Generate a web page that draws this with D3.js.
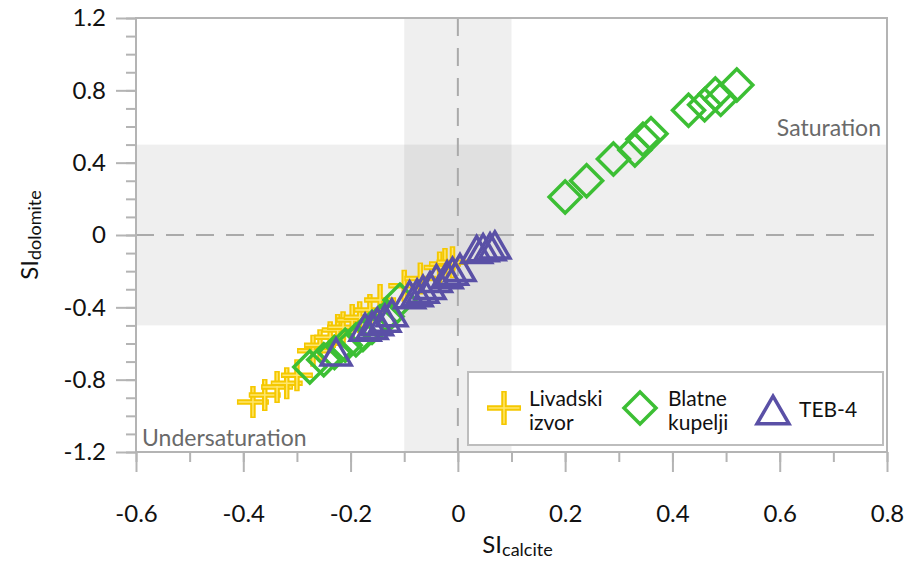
<!DOCTYPE html>
<html>
<head>
<meta charset="utf-8">
<script src="https://cdn.jsdelivr.net/npm/d3@7"></script>
<style>
  body { margin: 0; background: #fff; }
  svg { font-family: Lato, "Open Sans", sans-serif; }
</style>
</head>
<body>
<svg id="si-chart"></svg>
<script>
// Livadski izvor (crosses)
const livadski = [
    [-0.382, -0.924], [-0.36, -0.885], [-0.337, -0.84], [-0.319, -0.82],
    [-0.30, -0.775], [-0.27, -0.64], [-0.257, -0.61], [-0.238, -0.565],
    [-0.224, -0.525], [-0.214, -0.51], [-0.197, -0.47], [-0.183, -0.455],
    [-0.164, -0.415], [-0.145, -0.36], [-0.10, -0.28], [-0.07, -0.24],
    [-0.034, -0.18], [-0.024, -0.16], [-0.01, -0.15] ];

// Blatne kupelji (diamonds)
const blatne = [
    [-0.276, -0.73], [-0.25, -0.69], [-0.23, -0.65], [-0.21, -0.61],
    [-0.19, -0.58], [-0.177, -0.55], [-0.16, -0.51], [-0.145, -0.48],
    [-0.132, -0.45], [-0.108, -0.36],
    [0.20, 0.21], [0.24, 0.30], [0.29, 0.42], [0.33, 0.47], [0.345, 0.53],
    [0.36, 0.56], [0.43, 0.69], [0.46, 0.72], [0.48, 0.78], [0.49, 0.75],
    [0.52, 0.83] ];

// TEB-4 (triangles)
const teb = [
    [-0.227, -0.647], [-0.173, -0.51], [-0.16, -0.5], [-0.15, -0.48],
    [-0.136, -0.46], [-0.123, -0.43], [-0.09, -0.33], [-0.076, -0.32],
    [-0.065, -0.30], [-0.052, -0.28], [-0.04, -0.24], [-0.02, -0.22],
    [-0.01, -0.2], [0.004, -0.18], [0.035, -0.08], [0.047, -0.07],
    [0.06, -0.065], [0.069, -0.055] ];

const xTicks = [-0.6, -0.4, -0.2, 0, 0.2, 0.4, 0.6, 0.8];
const yTicks = [-1.2, -0.8, -0.4, 0, 0.4, 0.8, 1.2];

let margin = {top: 18, right: 30, bottom: 110, left: 136};
let width = 917 - margin.left - margin.right;
let height = 562 - margin.top - margin.bottom;

let svg = d3.select("#si-chart")
    .attr("width", 917)
    .attr("height", 562);

let g = svg.append("g")
    .attr("transform", `translate(${margin.left}, ${margin.top})`);

let x = d3.scaleLinear().domain([-0.6, 0.8]).range([0, width]);
let y = d3.scaleLinear().domain([-1.2, 1.2]).range([height, 0]);

const axisColor = "#b4b4b4";
const fmt = d => d === 0 ? "0" : d.toFixed(1);

// shaded zones
g.append("rect")
    .attr("x", 0).attr("width", width)
    .attr("y", y(0.5)).attr("height", y(-0.5) - y(0.5))
    .attr("fill", "#000").attr("fill-opacity", 0.063);
g.append("rect")
    .attr("x", x(-0.1)).attr("width", x(0.1) - x(-0.1))
    .attr("y", 0).attr("height", height)
    .attr("fill", "#000").attr("fill-opacity", 0.063);

// dashed zero lines
g.append("line")
    .attr("x1", 0).attr("x2", width).attr("y1", y(0)).attr("y2", y(0))
    .style("stroke", "#aaa").style("stroke-width", 2)
    .style("stroke-dasharray", "18,12");
g.append("line")
    .attr("x1", x(0)).attr("x2", x(0)).attr("y1", 0).attr("y2", height)
    .style("stroke", "#aaa").style("stroke-width", 2)
    .style("stroke-dasharray", "18,12");

// frame
g.append("rect")
    .attr("width", width).attr("height", height)
    .attr("fill", "none").style("stroke", axisColor).style("stroke-width", 2);

// axes: minor ticks then major ticks
function styleAxis(sel) {
    sel.select(".domain").remove();
    sel.selectAll("line").style("stroke", axisColor).style("stroke-width", 2);
    sel.selectAll("text").style("font-size", "24px").style("fill", "#111")
        .style("font-family", "Lato, sans-serif");
}

g.append("g")
    .attr("transform", `translate(0,${height})`)
    .call(d3.axisBottom(x).tickValues(d3.range(-0.6, 0.81, 0.1)).tickSize(10).tickFormat(""))
    .call(styleAxis);
g.append("g")
    .attr("transform", `translate(0,${height})`)
    .call(d3.axisBottom(x).tickValues(xTicks).tickSize(20).tickPadding(33).tickFormat(fmt))
    .call(styleAxis);

g.append("g")
    .call(d3.axisLeft(y).tickValues(d3.range(-1.2, 1.21, 0.1)).tickSize(10).tickFormat(""))
    .call(styleAxis);
g.append("g")
    .call(d3.axisLeft(y).tickValues(yTicks).tickSize(20).tickPadding(10).tickFormat(fmt))
    .call(styleAxis);

// zone labels
g.append("text")
    .attr("x", width - 6).attr("y", y(0.5) - 9)
    .attr("text-anchor", "end")
    .style("font-size", "23px").style("fill", "#6a6a6a")
    .text("Saturation");
g.append("text")
    .attr("x", 6).attr("y", height - 6)
    .style("font-size", "23px").style("fill", "#6a6a6a")
    .text("Undersaturation");

// axis titles
let xt = svg.append("text")
    .attr("x", margin.left + x(0.1) + 6).attr("y", 553)
    .attr("text-anchor", "middle")
    .style("font-size", "24px").style("fill", "#111");
xt.append("tspan").text("SI");
xt.append("tspan").attr("dy", 3).style("font-size", "18px").text("calcite");

let yt = svg.append("text")
    .attr("transform", `translate(38, ${margin.top + y(0)}) rotate(-90)`)
    .attr("text-anchor", "middle")
    .style("font-size", "24px").style("fill", "#111");
yt.append("tspan").text("SI");
yt.append("tspan").attr("dy", 3).style("font-size", "18px").text("dolomite");

// marker shapes
const yellow = "#f5c800", green = "#3cbf34", purple = "#5a50a6";

function cross(sel, r) {
    sel.append("path")
        .attr("d", `M${-r},0H${r}M0,${-r}V${r}`)
        .style("stroke", yellow).style("stroke-width", 5.5).attr("fill", "none");
    sel.append("path")
        .attr("d", `M${-r + 1.5},0H${r - 1.5}M0,${-r + 1.5}V${r - 1.5}`)
        .style("stroke", "#ffe66e").style("stroke-width", 1.5).attr("fill", "none");
}
function diamond(sel, r) {
    sel.append("path")
        .attr("d", `M0,${-r}L${r},0L0,${r}L${-r},0Z`)
        .attr("fill", "none").style("stroke", green).style("stroke-width", 3.5);
}
function triangle(sel, s) {
    let h = s * Math.sqrt(3) / 2;
    sel.append("path")
        .attr("d", `M0,${-h / 2}L${s / 2},${h / 2}L${-s / 2},${h / 2}Z`)
        .attr("fill", "none").style("stroke", purple).style("stroke-width", 3.5)
        .style("stroke-linejoin", "miter");
}

g.append("g").selectAll("g")
    .data(livadski).join("g")
    .attr("transform", d => `translate(${x(d[0])},${y(d[1])})`)
    .each(function() { cross(d3.select(this), 16); });

g.append("g").selectAll("g")
    .data(blatne).join("g")
    .attr("transform", d => `translate(${x(d[0])},${y(d[1])})`)
    .each(function() { diamond(d3.select(this), 16); });

g.append("g").selectAll("g")
    .data(teb).join("g")
    .attr("transform", d => `translate(${x(d[0])},${y(d[1])})`)
    .each(function() { triangle(d3.select(this), 30); });

// legend
let leg = svg.append("g");
leg.append("rect")
    .attr("x", 468).attr("y", 372).attr("width", 415).attr("height", 73)
    .attr("fill", "#fff").style("stroke", "#bdbdbd").style("stroke-width", 2);

cross(leg.append("g").attr("transform", "translate(504,408)"), 17);
diamond(leg.append("g").attr("transform", "translate(640,408)"), 16);
triangle(leg.append("g").attr("transform", "translate(773,410)"), 32);

const legText = [
    {x: 529, lines: ["Livadski", "izvor"]},
    {x: 668, lines: ["Blatne", "kupelji"]},
    {x: 799, lines: ["TEB-4"]} ];

legText.forEach(t => {
    t.lines.forEach((l, i) => {
        leg.append("text")
            .attr("x", t.x)
            .attr("y", t.lines.length > 1 ? 406 + i * 24 : 417)
            .style("font-size", "21px").style("fill", "#111")
            .text(l);
    });
});
</script>
</body>
</html>
